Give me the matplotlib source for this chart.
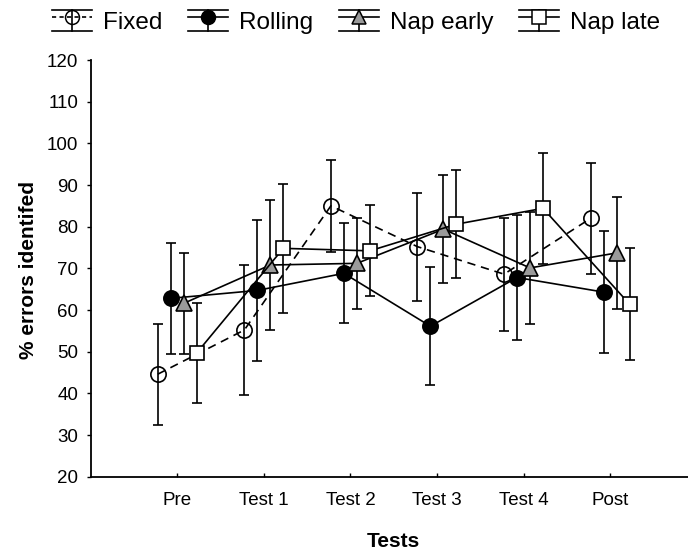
import numpy as np
import matplotlib.pyplot as plt
from matplotlib.lines import Line2D
from matplotlib.legend_handler import HandlerBase

plt.rcParams['font.family'] = ['Liberation Sans', 'DejaVu Sans']

# Group means and error bar half-widths per test session
tests = ['Pre', 'Test 1', 'Test 2', 'Test 3', 'Test 4', 'Post']
fixed_mean = [44.6, 55.2, 85.0, 75.2, 68.6, 82.0]
fixed_err = [12.1, 15.5, 11.0, 13.0, 13.6, 13.4]
rolling_mean = [62.8, 64.7, 68.8, 56.1, 67.8, 64.3]
rolling_err = [13.3, 17.0, 12.0, 14.2, 14.9, 14.7]
nap_early_mean = [61.6, 70.8, 71.2, 79.4, 70.1, 73.7]
nap_early_err = [12.2, 15.5, 10.9, 12.9, 13.4, 13.4]
nap_late_mean = [49.7, 74.8, 74.2, 80.6, 84.4, 61.4]
nap_late_err = [12.1, 15.5, 10.9, 12.9, 13.4, 13.5]

groups = ['Fixed', 'Rolling', 'Nap early', 'Nap late']
means = [fixed_mean, rolling_mean, nap_early_mean, nap_late_mean]
errs = [fixed_err, rolling_err, nap_early_err, nap_late_err]

# marker, face colour, line style, x shift
styles = [
    ('o', 'none', (0, (5, 3.5)), -0.225),
    ('o', 'black', '-', -0.075),
    ('^', '#9a9a9a', '-', 0.075),
    ('s', 'white', '-', 0.225),
]
msizes = [11, 11, 11, 10]

fig = plt.figure(figsize=(6.88, 5.53), dpi=100)
ax = fig.add_axes([0.1318, 0.138, 0.8682, 0.7535])

x = np.arange(1, len(tests) + 1)
for name, m, e, (mk, fc, ls, dx), ms in zip(groups, means, errs, styles, msizes):
    ax.errorbar(x + dx, m, yerr=e, color='black', linestyle=ls, linewidth=1.2,
                marker=mk, markersize=ms, markerfacecolor=fc,
                markeredgecolor='black', markeredgewidth=1.2,
                elinewidth=1.2, capsize=3.6, capthick=1.2)

ax.set_xlim(0, 6.9)
ax.set_ylim(20, 120)
ax.set_yticks(np.arange(20, 121, 10))
ax.set_xticks(x)
ax.set_xticklabels(tests)
ax.spines['top'].set_visible(False)
ax.spines['right'].set_visible(False)
ax.spines['left'].set_linewidth(1.3)
ax.spines['bottom'].set_linewidth(1.3)
ax.tick_params(axis='y', direction='out', length=3, width=1, pad=6, labelsize=13.5)
ax.tick_params(axis='x', direction='in', length=3, width=1, pad=11, labelsize=13.5)

fig.text(393 / 688, 1 - 541.7 / 553, 'Tests', ha='center', va='center',
         fontsize=15, fontweight='bold')
fig.text(28 / 688, 1 - 270 / 553, '% errors identifed', ha='center', va='center',
         rotation=90, fontsize=15, fontweight='bold')


class CapHandler(HandlerBase):
    """Legend key with wide caps above and below the marker."""

    def __init__(self, marker, face, ls):
        super().__init__()
        self.marker = marker
        self.face = face
        self.ls = ls

    def create_artists(self, legend, orig_handle, xdescent, ydescent,
                       width, height, fontsize, trans):
        x0, y0 = -xdescent, -ydescent
        top = y0 + height
        mid = y0 + height * 0.68
        xc = x0 + width / 2
        kw = dict(color='black', linewidth=1.2, transform=trans)
        arts = [
            Line2D([x0, x0 + width], [top, top], **kw),
            Line2D([x0, x0 + width], [y0, y0], **kw),
            Line2D([xc, xc], [y0, top], **kw),
            Line2D([x0, x0 + width], [mid, mid], linestyle=self.ls, **kw),
            Line2D([xc], [mid], marker=self.marker, markersize=10,
                   markerfacecolor=self.face, markeredgecolor='black',
                   markeredgewidth=1.1, linestyle='none', transform=trans),
        ]
        return arts


handles = [Line2D([], []) for _ in groups]
hmap = {h: CapHandler(mk, fc, ls if ls == '-' else (0, (2.5, 2)))
        for h, (mk, fc, ls, dx) in zip(handles, styles)}
fig.legend(handles, groups, handler_map=hmap, loc='center',
           bbox_to_anchor=(356 / 688, 1 - 22 / 553), ncol=4, frameon=False,
           fontsize=17.5, handlelength=1.65, handleheight=0.95,
           handletextpad=0.45, columnspacing=1.05, borderpad=0)

fig.savefig('out.png', dpi=100)
